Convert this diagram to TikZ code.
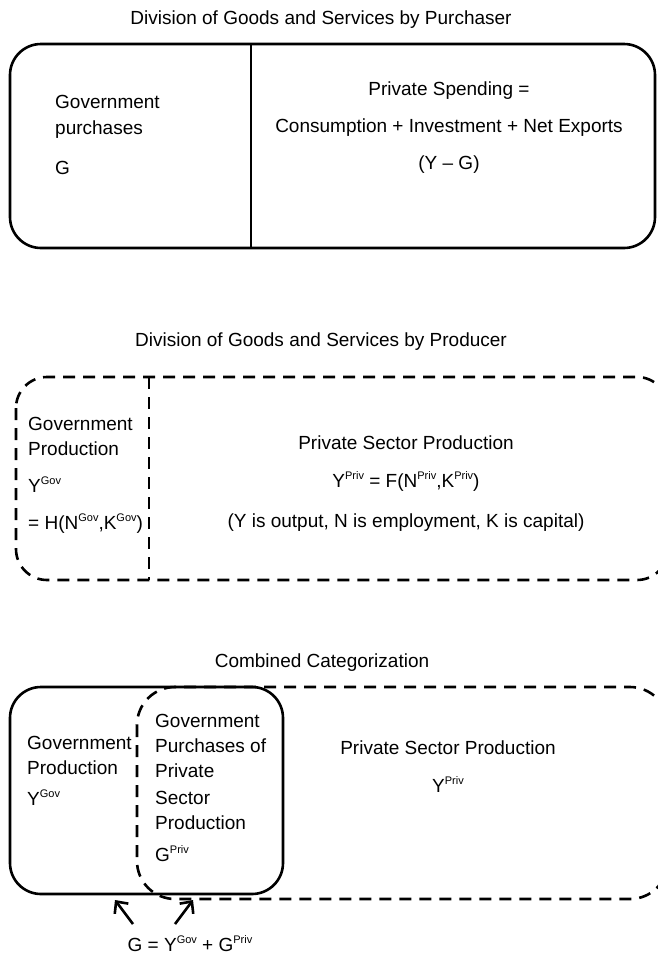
\documentclass[tikz,border=0pt]{standalone}
\usepackage{fontspec}
\setmainfont{Liberation Sans}
\usepackage{tikz}
\usetikzlibrary{arrows.meta}
\newcommand{\supt}[1]{\raisebox{0.42em}{\fontsize{11}{11}\selectfont #1}}
\tikzset{
  boxline/.style={line width=2.6pt, rounded corners=31pt},
  dashline/.style={line width=2.6pt, dash pattern=on 12pt off 8pt, rounded corners=31pt},
  txt/.style={font=\fontsize{19}{23}\selectfont, inner sep=0pt},
  lefttxt/.style={txt, anchor=base west},
  midtxt/.style={txt, anchor=base},
  arr/.style={line width=2.6pt, -{Straight Barb[length=9pt,width=17pt,line width=2.6pt]}}
}

\begin{document}
\begin{tikzpicture}[x=1pt, y=-1pt]
  \useasboundingbox (0,0) rectangle (658,954);

  % by purchaser
  \node[midtxt] (titlePurch) at (321,24) {Division of Goods and Services by Purchaser};
  \draw[boxline] (10,44) rectangle (655,248);
  \draw[line width=2.6pt] (251,44) -- (251,248);
  \node[lefttxt] (govPurchA) at (55,108) {Government};
  \node[lefttxt] (govPurchB) at (55,134) {purchases};
  \node[lefttxt] (govPurchC) at (55,174) {G};
  \node[midtxt] (privSpendA) at (449,95) {Private Spending =};
  \node[midtxt] (privSpendB) at (449,132) {Consumption + Investment + Net Exports};
  \node[midtxt] (privSpendC) at (449,169) {(Y -- G)};

  % by producer
  \node[midtxt] (titleProd) at (321,346) {Division of Goods and Services by Producer};
  \draw[dashline] (16,377) rectangle (668,580);
  \draw[line width=2.6pt, dash pattern=on 12pt off 8pt] (149,377) -- (149,580);
  \node[lefttxt] (govProdA) at (28,430) {Government};
  \node[lefttxt] (govProdB) at (28,455) {Production};
  \node[lefttxt] (govProdC) at (28,492) {Y\supt{Gov}};
  \node[lefttxt] (govProdD) at (28,529) {= H(N\supt{Gov},K\supt{Gov})};
  \node[midtxt] (privProdA) at (406,449) {Private Sector Production};
  \node[midtxt] (privProdB) at (406,487) {Y\supt{Priv} = F(N\supt{Priv},K\supt{Priv})};
  \node[midtxt] (privProdC) at (406,527) {(Y is output, N is employment, K is capital)};

  % combined
  \node[midtxt] (titleComb) at (322,667) {Combined Categorization};
  \draw[dashline, rounded corners=38pt] (137,687) rectangle (668,899);
  \draw[boxline] (10,687) rectangle (283,894);
  \node[lefttxt] (combGovA) at (27,749) {Government};
  \node[lefttxt] (combGovB) at (27,774) {Production};
  \node[lefttxt] (combGovC) at (27,805) {Y\supt{Gov}};
  \node[lefttxt] (combMidA) at (155,727) {Government};
  \node[lefttxt] (combMidB) at (155,752) {Purchases of};
  \node[lefttxt] (combMidC) at (155,777) {Private};
  \node[lefttxt] (combMidD) at (155,804) {Sector};
  \node[lefttxt] (combMidE) at (155,829) {Production};
  \node[lefttxt] (combMidF) at (155,861) {G\supt{Priv}};
  \node[midtxt] (combPrivA) at (448,754) {Private Sector Production};
  \node[midtxt] (combPrivB) at (448,792) {Y\supt{Priv}};

  % sum of G
  \node[midtxt] (gSum) at (190,951) {G = Y\supt{Gov} + G\supt{Priv}};
  \coordinate (tailL) at (133,924);
  \coordinate (headL) at (115,900);
  \coordinate (tailR) at (175,924);
  \coordinate (headR) at (193,900);
  \draw[arr] (tailL) -- (headL);
  \draw[arr] (tailR) -- (headR);
\end{tikzpicture}
\end{document}
